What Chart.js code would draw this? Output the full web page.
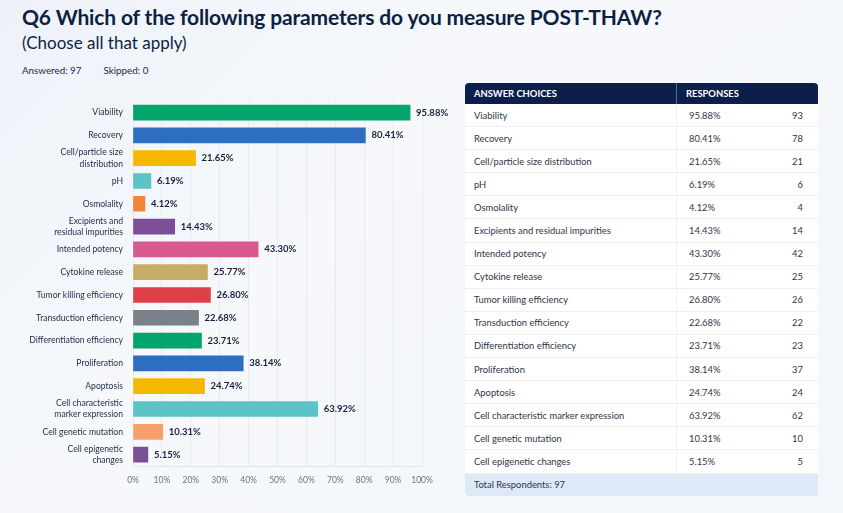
<!DOCTYPE html>
<html>
<head>
<meta charset="utf-8">
<script src="https://cdn.jsdelivr.net/npm/chart.js@4.4.1/dist/chart.umd.min.js"></script>
<style>
  body { margin: 0; width: 843px; height: 513px; overflow: hidden;
    background: linear-gradient(135deg, #eef2f8 0%, #f6f8fb 40%, #f3f6fa 100%);
    font-family: "Lato", sans-serif; color: #0d1f45; position: relative; }
  h1 { position: absolute; left: 22px; top: 4px; margin: 0; font-size: 21px; font-weight: 700; letter-spacing: -0.15px; }
  h2 { position: absolute; left: 22px; top: 32px; margin: 0; font-size: 17px; font-weight: 400; }
  .meta { position: absolute; left: 22px; top: 64px; font-size: 9.8px; color: #1d2a45; }
  .meta span { margin-right: 22px; }
  .chart { position: absolute; left: 0; top: 80px; width: 460px; height: 415px; }
  table { position: absolute; left: 465px; top: 83px; width: 353px; border-collapse: collapse;
    font-size: 9.4px; color: #2e3648; background: #fff; }
  th { background: #0c1f4a; color: #fff; font-weight: 700; text-align: left; height: 21px; padding: 0 0 0 9px; font-size: 9.4px; }
  th:first-child { border-top-left-radius: 4px; border-right: 1px solid #5a6a8a; }
  th:last-child { border-top-right-radius: 4px; }
  td { height: 22.1px; border-bottom: 1px solid #edf0f4; padding: 0 0 0 9px; }
  td:first-child { width: 202px; border-right: 1px solid #edf0f4; }
  td.pct { padding-left: 12px; }
  td.cnt { text-align: right; padding-right: 15px; }
  tr.total td { background: #dde9f6; border: none; height: 22px; border-bottom-left-radius: 4px; }
</style>
</head>
<body>
<h1>Q6 Which of the following parameters do you measure POST-THAW?</h1>
<h2>(Choose all that apply)</h2>
<div class="meta"><span>Answered: 97</span><span>Skipped: 0</span></div>
<div class="chart"><canvas id="c"></canvas></div>
<table id="t"></table>
<script>
const labels = [
  "Viability", "Recovery", ["Cell/particle size", "distribution"], "pH", "Osmolality",
  ["Excipients and", "residual impurities"], "Intended potency", "Cytokine release",
  "Tumor killing efficiency", "Transduction efficiency", "Differentiation efficiency",
  "Proliferation", "Apoptosis", ["Cell characteristic", "marker expression"],
  "Cell genetic mutation", ["Cell epigenetic", "changes"]
];
const tableLabels = [
  "Viability", "Recovery", "Cell/particle size distribution", "pH", "Osmolality",
  "Excipients and residual impurities", "Intended potency", "Cytokine release",
  "Tumor killing efficiency", "Transduction efficiency", "Differentiation efficiency",
  "Proliferation", "Apoptosis", "Cell characteristic marker expression",
  "Cell genetic mutation", "Cell epigenetic changes"
];
const percents = [95.88, 80.41, 21.65, 6.19, 4.12, 14.43, 43.30, 25.77, 26.80, 22.68, 23.71, 38.14, 24.74, 63.92, 10.31, 5.15];
const counts = [93, 78, 21, 6, 4, 14, 42, 25, 26, 22, 23, 37, 24, 62, 10, 5];
const totalRespondents = 97;
const colors = [
  "#04a56c", "#2d6ec3", "#f6b700", "#5cc3c7", "#f5843b", "#7a4f97", "#d85990", "#c6ad66",
  "#df3f47", "#7b8189", "#04a56c", "#2d6ec3", "#f6b700", "#5cc3c7", "#f8a06b", "#7a4f97"
];

// table
const t = document.getElementById("t");
let html = "<tr><th>ANSWER CHOICES</th><th colspan='2'>RESPONSES</th></tr>";
for (let i = 0; i < tableLabels.length; i++) {
  html += "<tr><td>" + tableLabels[i] + "</td><td class='pct'>" + percents[i].toFixed(2) +
    "%</td><td class='cnt'>" + counts[i] + "</td></tr>";
}
html += "<tr class='total'><td colspan='3'>Total Respondents: " + totalRespondents + "</td></tr>";
t.innerHTML = html;

const valueLabels = {
  id: "valueLabels",
  afterDatasetsDraw(chart) {
    const ctx = chart.ctx;
    const meta = chart.getDatasetMeta(0);
    ctx.save();
    ctx.font = "700 9.5px Lato, sans-serif";
    ctx.fillStyle = "#17213d";
    ctx.textBaseline = "middle";
    meta.data.forEach((bar, i) => {
      ctx.fillText(percents[i].toFixed(2) + "%", bar.x + 6, bar.y);
    });
    ctx.restore();
  }
};

new Chart(document.getElementById("c"), {
  type: "bar",
  data: {
    labels: labels,
    datasets: [{
      data: percents,
      backgroundColor: colors,
      borderWidth: 0,
      barThickness: 15
    }]
  },
  options: {
    indexAxis: "y",
    responsive: true,
    maintainAspectRatio: false,
    animation: false,
    layout: { padding: { top: 6, right: 38 } },
    plugins: { legend: { display: false }, tooltip: { enabled: false } },
    scales: {
      x: {
        min: 0, max: 100,
        ticks: { stepSize: 10, padding: 9, color: "#6a7284", font: { size: 8.5, family: "Lato, sans-serif" },
          callback: v => v + "%" },
        grid: { color: "#e7eaef", drawTicks: false },
        border: { color: "#e2e5ea" },
        afterFit: s => { s.height = 29; }
      },
      y: {
        ticks: { color: "#1d2a45", padding: 10, autoSkip: false,
          font: { size: 8.6, family: "Lato, sans-serif", lineHeight: 1.3 } },
        grid: { display: false, drawTicks: false },
        border: { display: false },
        afterFit: s => { s.width = 133; }
      }
    }
  },
  plugins: [valueLabels]
});
</script>
</body>
</html>
